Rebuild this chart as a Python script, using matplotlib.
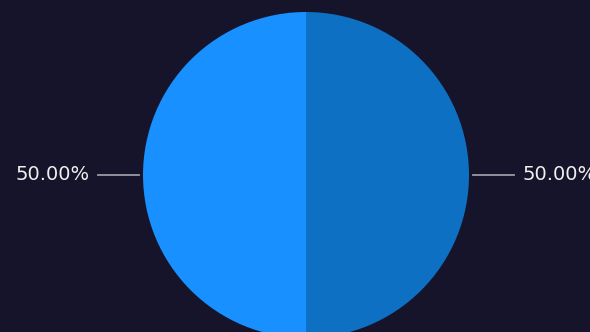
import numpy as np
import matplotlib.pyplot as plt

values = [50, 50]
colors = ['#1890ff', '#0e70c2']
bg = '#15142a'

fig = plt.figure(figsize=(5.9, 3.32), dpi=100, facecolor=bg)
ax = fig.add_axes([0, 0, 1, 1])
ax.set_facecolor(bg)

cx, cy, r = 306, 157, 163
wedges, _ = ax.pie(values, colors=colors, startangle=90, counterclock=True,
                   center=(cx, cy), radius=r, frame=True,
                   wedgeprops=dict(linewidth=0))
ax.set_xlim(0, 590)
ax.set_ylim(0, 332)
ax.set_aspect('equal')
ax.axis('off')

total = sum(values)
for w, v in zip(wedges, values):
    ang = np.deg2rad((w.theta1 + w.theta2) / 2)
    s = np.sign(np.cos(ang))
    x0 = cx + s * (r + 4)
    x1 = x0 + s * 41
    ax.plot([x0, x1], [cy, cy], color='#9a9aa6', lw=1.3)
    ax.text(x1 + s * 8, cy, '%.2f%%' % (100 * v / total), color='#f0f0f0',
            fontsize=14, va='center', ha='left' if s > 0 else 'right')

plt.savefig('out.png', facecolor=bg)
